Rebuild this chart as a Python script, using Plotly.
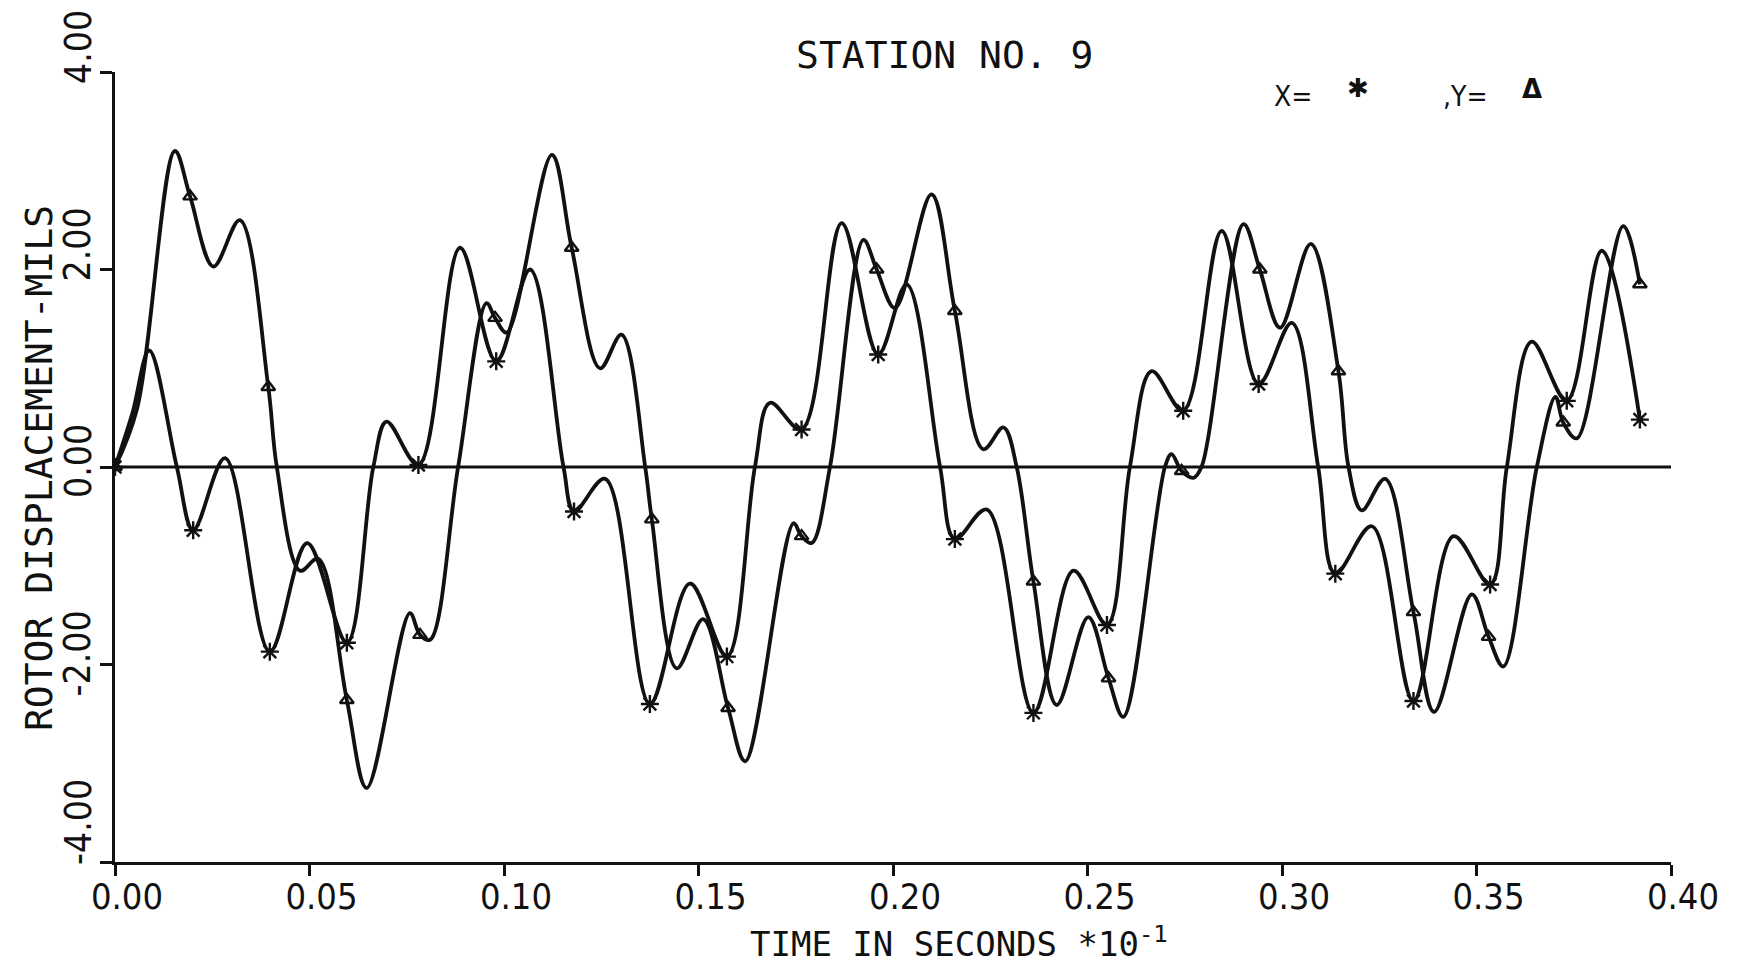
import plotly.graph_objects as go

# ---------------- data ----------------
# X displacement (asterisk curve): knots along the smooth trace
x_t = [0.0, 0.0045, 0.0088, 0.0159, 0.0201, 0.0283, 0.0398, 0.0494, 0.0596, 0.0664,
       0.0698, 0.078, 0.0887, 0.098, 0.1067, 0.1153, 0.118, 0.126, 0.1375, 0.1478,
       0.1573, 0.1645, 0.1684, 0.1765, 0.1868, 0.1962, 0.2035, 0.2121, 0.2159, 0.2241,
       0.2361, 0.2464, 0.255, 0.2609, 0.2665, 0.2746, 0.2845, 0.294, 0.3025, 0.3093,
       0.3137, 0.3231, 0.3338, 0.3441, 0.3535, 0.3578, 0.3642, 0.3732, 0.3822, 0.392]
x_v = [0.0, 0.55, 1.18, 0.0, -0.64, 0.09, -1.87, -0.77, -1.78, 0.0,
       0.46, 0.02, 2.22, 1.07, 2.0, 0.0, -0.45, -0.12, -2.40, -1.18,
       -1.92, 0.0, 0.65, 0.38, 2.47, 1.14, 1.85, 0.0, -0.73, -0.43,
       -2.49, -1.05, -1.60, 0.0, 0.97, 0.57, 2.39, 0.84, 1.46, 0.0,
       -1.08, -0.60, -2.37, -0.70, -1.19, 0.0, 1.27, 0.67, 2.19, 0.48]

# Y displacement (triangle curve)
y_t = [0.0, 0.0056, 0.0154, 0.0193, 0.0253, 0.0321, 0.0394, 0.0416, 0.0476, 0.0522,
       0.0596, 0.0647, 0.0758, 0.0784, 0.081, 0.0882, 0.0955, 0.0977, 0.1007, 0.1123,
       0.1174, 0.1247, 0.1302, 0.1363, 0.138, 0.1444, 0.1512, 0.1576, 0.162, 0.1744,
       0.1765, 0.1791, 0.1838, 0.1924, 0.1958, 0.2005, 0.2099, 0.2159, 0.2232, 0.2284,
       0.2318, 0.2361, 0.2421, 0.2502, 0.2554, 0.2592, 0.2699, 0.2716, 0.2742, 0.2772,
       0.2793, 0.2901, 0.2943, 0.2995, 0.3074, 0.3145, 0.3171, 0.3205, 0.3265, 0.3338,
       0.3391, 0.3488, 0.3531, 0.3569, 0.3655, 0.3703, 0.3723, 0.3758, 0.3877, 0.392]
y_v = [0.0, 0.58, 3.20, 2.74, 2.03, 2.50, 0.81, 0.0, -1.05, -0.93,
       -2.36, -3.25, -1.48, -1.70, -1.75, 0.0, 1.66, 1.51, 1.36, 3.16,
       2.22, 1.00, 1.34, 0.0, -0.53, -2.04, -1.54, -2.44, -2.98, -0.57,
       -0.70, -0.77, 0.0, 2.30, 2.00, 1.61, 2.76, 1.58, 0.18, 0.40,
       0.0, -1.16, -2.41, -1.52, -2.14, -2.53, 0.0, 0.13, -0.04, -0.11,
       0.0, 2.46, 2.00, 1.41, 2.26, 0.97, 0.0, -0.44, -0.12, -1.47,
       -2.48, -1.29, -1.72, -2.02, 0.0, 0.71, 0.45, 0.29, 2.44, 1.85]

# marker samples
xm_t = [0.0, 0.0201, 0.0398, 0.0596, 0.078, 0.098, 0.118, 0.1375, 0.1573, 0.1765, 0.1962,
        0.2159, 0.2361, 0.255, 0.2746, 0.294, 0.3137, 0.3338, 0.3535, 0.3732, 0.392]
xm_v = [0.0, -0.64, -1.87, -1.78, 0.02, 1.07, -0.45, -2.40, -1.92, 0.38, 1.14,
        -0.73, -2.49, -1.60, 0.57, 0.84, -1.08, -2.37, -1.19, 0.67, 0.48]
ym_t = [0.0, 0.0193, 0.0394, 0.0596, 0.0784, 0.0977, 0.1174, 0.138, 0.1576, 0.1765, 0.1958,
        0.2159, 0.2361, 0.2554, 0.2742, 0.2943, 0.3145, 0.3338, 0.3531, 0.3723, 0.392]
ym_v = [0.0, 2.74, 0.81, -2.36, -1.70, 1.51, 2.22, -0.53, -2.44, -0.70, 2.00,
        1.58, -1.16, -2.14, -0.04, 2.00, 0.97, -1.47, -1.72, 0.45, 1.85]

x_ticks = [0.0, 0.05, 0.10, 0.15, 0.20, 0.25, 0.30, 0.35, 0.40]
x_tick_text = ["0.00", "0.05", "0.10", "0.15", "0.20", "0.25", "0.30", "0.35", "0.40"]
y_ticks = [4.0, 2.0, 0.0, -2.0, -4.0]
y_tick_text = ["4.00", "2.00", "0.00", "-2.00", "-4.00"]

TITLE = "STATION NO. 9"
X_TITLE = "TIME IN SECONDS *10<sup>-1</sup>"
Y_TITLE = "ROTOR DISPLACEMENT-MILS"

# ---------------- styling ----------------
MONO = "DejaVu Sans Mono, Liberation Mono, monospace"
COND = "DejaVu Sans Condensed, Liberation Sans Narrow, DejaVu Sans Mono"
INK = "#111111"
y_label_shift = [25, 25, 6, 11, 40]

fig = go.Figure()
fig.add_trace(go.Scatter(x=x_t, y=x_v, mode="lines", line=dict(color=INK, width=3.8, shape="spline", smoothing=1.0),
                         hoverinfo="skip", showlegend=False))
fig.add_trace(go.Scatter(x=y_t, y=y_v, mode="lines", line=dict(color=INK, width=3.8, shape="spline", smoothing=1.0),
                         hoverinfo="skip", showlegend=False))
fig.add_trace(go.Scatter(x=xm_t, y=xm_v, mode="markers",
                         marker=dict(symbol="asterisk-open", size=15, color=INK, line=dict(color=INK, width=2.4)),
                         showlegend=False))
fig.add_trace(go.Scatter(x=ym_t, y=ym_v, mode="markers",
                         marker=dict(symbol="triangle-up-open", size=12, color=INK, line=dict(color=INK, width=2.4)),
                         showlegend=False))

# zero reference line
fig.add_shape(type="line", x0=0, x1=0.4, y0=0, y1=0, xref="x", yref="y",
              line=dict(color=INK, width=2.8), layer="below")

annotations = []
for v, t, s in zip(y_ticks, y_tick_text, y_label_shift):
    annotations.append(dict(x=-0.0238, xref="paper", y=v, yref="y", text=t, textangle=-90,
                            showarrow=False, xanchor="center", yanchor="middle", yshift=s,
                            font=dict(family=COND, size=37, color=INK)))
annotations += [
    dict(x=0.5334, y=1.0215, xref="paper", yref="paper", text=TITLE, showarrow=False,
         xanchor="center", yanchor="middle", font=dict(family=MONO, size=38, color=INK)),
    dict(x=0.5424, y=-0.101, xref="paper", yref="paper", text=X_TITLE, showarrow=False,
         xanchor="center", yanchor="middle", font=dict(family=MONO, size=34, color=INK)),
    dict(x=-0.0488, y=0.4987, xref="paper", yref="paper", text=Y_TITLE, showarrow=False, textangle=-90,
         xanchor="center", yanchor="middle", font=dict(family=MONO, size=38, color=INK)),
    dict(x=(1293 - 115) / 1556, y=(862 - 96) / 790, xref="paper", yref="paper", text="X=", showarrow=False,
         xanchor="center", yanchor="middle", font=dict(family=COND, size=28, color=INK)),
    dict(x=(1358 - 115) / 1556, y=(862 - 88) / 790, xref="paper", yref="paper", text="\u2731", showarrow=False,
         xanchor="center", yanchor="middle", font=dict(family="DejaVu Sans", size=26, color=INK)),
    dict(x=(1465 - 115) / 1556, y=(862 - 96) / 790, xref="paper", yref="paper", text=",Y=", showarrow=False,
         xanchor="center", yanchor="middle", font=dict(family=COND, size=28, color=INK)),
    dict(x=(1532 - 115) / 1556, y=(862 - 89) / 790, xref="paper", yref="paper", text="<b>\u0394</b>", showarrow=False,
         xanchor="center", yanchor="middle", font=dict(family="DejaVu Sans", size=26, color=INK)),
]

fig.update_layout(
    width=1738, height=964,
    margin=dict(l=115, r=67, t=72, b=102, pad=0),
    paper_bgcolor="white", plot_bgcolor="white",
    annotations=annotations,
    xaxis=dict(range=[0, 0.4], tickvals=x_ticks, ticktext=x_tick_text, showgrid=False, zeroline=False,
               showline=True, linecolor=INK, linewidth=3, ticks="outside", ticklen=11, tickwidth=2.5,
               tickcolor=INK, ticklabelshift=12, ticklabelstandoff=-10,
               tickfont=dict(family=COND, size=36, color=INK)),
    yaxis=dict(range=[-4, 4], tickvals=y_ticks, showticklabels=False, showgrid=False, zeroline=False,
               showline=True, linecolor=INK, linewidth=3, ticks="outside", ticklen=12, tickwidth=2.5,
               tickcolor=INK),
)

fig.write_html("out.html")
